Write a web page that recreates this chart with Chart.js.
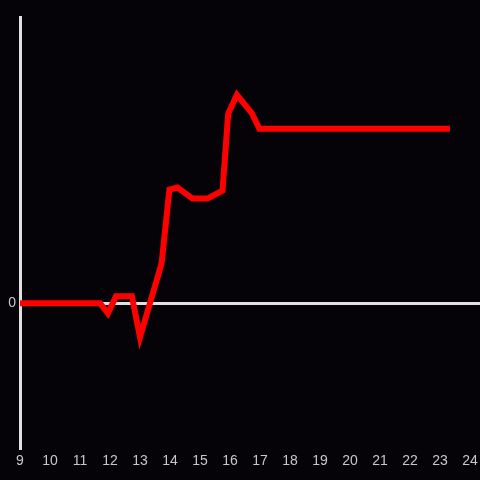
<!DOCTYPE html>
<html>
<head>
<meta charset="utf-8">
<script src="https://cdn.jsdelivr.net/npm/chart.js@4/dist/chart.umd.min.js"></script>
<style>
html,body{margin:0;padding:0;background:#050307;}
#wrap{width:480px;height:480px;position:relative;}
</style>
</head>
<body>
<div id="wrap"><canvas id="c" width="480" height="480"></canvas></div>
<script>
// Hours of day (x) and values (y)
const hours = [9, 11.67, 11.93, 12.2, 12.73, 13.0, 13.72, 13.98, 14.25, 14.75, 15.25, 15.75, 15.94, 16.23, 16.72, 16.98, 23.33];
const values = [0, 0, -10, 7, 7, -34, 40, 114, 116, 105, 105, 113, 190, 209, 191, 175, 175];
const xTicks = [9,10,11,12,13,14,15,16,17,18,19,20,21,22,23,24];
const yTicks = [0];

const points = hours.map((h, i) => ({x: h, y: values[i]}));

Chart.defaults.font.family = "'Liberation Sans', Arial, sans-serif";
Chart.defaults.font.size = 14;

new Chart(document.getElementById('c'), {
  type: 'line',
  data: {
    datasets: [{
      data: points,
      borderColor: '#ff0000',
      borderWidth: 6,
      tension: 0,
      pointRadius: 0,
      fill: false
    }]
  },
  options: {
    responsive: false,
    animation: false,
    layout: {padding: {top: 17, right: 0, left: 0, bottom: 0}},
    plugins: {legend: {display: false}, tooltip: {enabled: false}},
    scales: {
      x: {
        type: 'linear',
        min: 9,
        max: 24.333,
        afterBuildTicks: s => { s.ticks = xTicks.map(v => ({value: v})); },
        afterFit: s => { s.height = 32; s.paddingLeft = 0; s.paddingRight = 0; },
        grid: {display: false, drawTicks: false},
        border: {display: false},
        ticks: {color: '#c8c8c8', padding: 5, maxRotation: 0, autoSkip: false}
      },
      y: {
        min: -145,
        max: 287,
        afterBuildTicks: s => { s.ticks = yTicks.map(v => ({value: v})); },
        afterFit: s => { s.width = 20; s.paddingTop = 0; s.paddingBottom = 0; },
        grid: {
          drawTicks: false,
          color: ctx => (ctx.tick && ctx.tick.value === 0) ? '#e0e0e0' : 'rgba(0,0,0,0)',
          lineWidth: 3
        },
        border: {display: true, color: '#e0e0e0', width: 3},
        ticks: {color: '#c8c8c8', padding: 4}
      }
    }
  }
});
</script>
</body>
</html>
